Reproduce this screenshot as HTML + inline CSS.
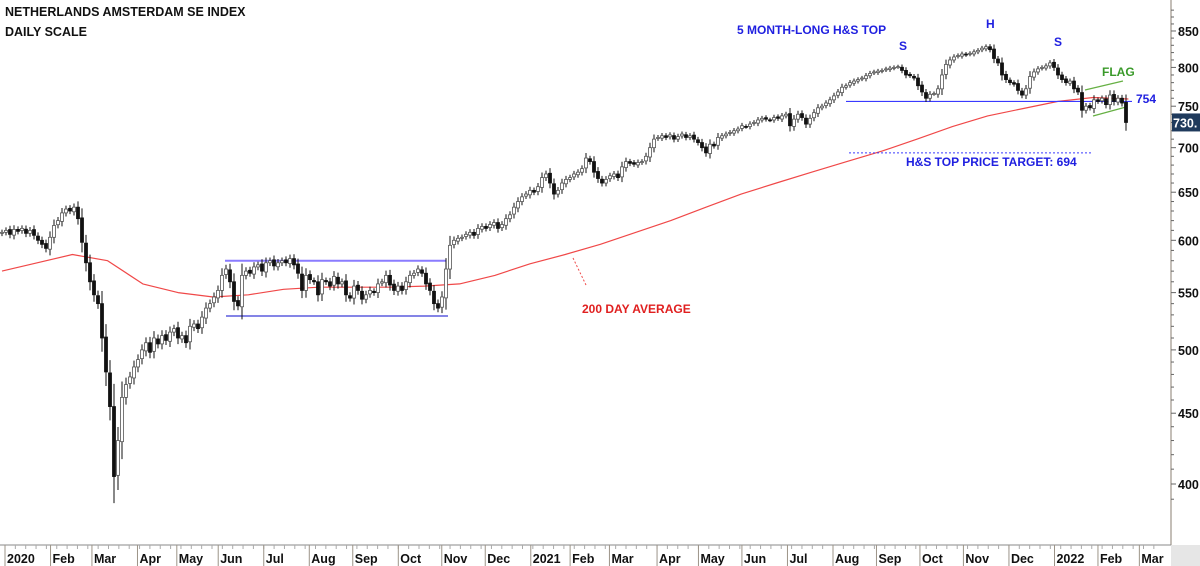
<!DOCTYPE html>
<html><head><meta charset="utf-8"><style>
html,body{margin:0;padding:0;background:#fff;}
svg{display:block;font-family:"Liberation Sans",sans-serif;}
</style></head><body>
<svg id="chart" width="1200" height="566" viewBox="0 0 1200 566">
<rect x="1171" y="545" width="29" height="21" fill="#e6e6e6"/>
<g id="ma"></g>
<g id="ann"></g>
<g id="candles"></g>
<g id="axes"></g>
<text x="5" y="16" font-size="12.5" font-weight="bold" fill="#111">NETHERLANDS AMSTERDAM SE INDEX</text>
<text x="5" y="36" font-size="12.5" font-weight="bold" fill="#111">DAILY SCALE</text>
</svg>
<script>
const closes=[608,610,606,611,609,612,607,610,605,600,
596,592,603,615,620,628,632,630,634,622,
598,578,560,548,540,510,482,455,405,430,
462,472,478,486,492,500,506,498,510,505,
512,508,515,518,510,512,506,520,522,518,
528,536,540,546,552,566,572,560,542,538,
566,570,568,574,576,570,578,580,575,578,
580,578,582,576,568,552,566,562,560,548,
562,560,556,565,558,560,548,545,556,552,
544,548,552,550,558,560,566,557,552,556,
552,560,566,568,572,568,558,552,540,536,
546,572,595,600,602,603,606,608,605,612,
614,612,616,618,612,616,622,626,634,640,
645,648,652,650,656,666,670,660,648,652,
660,664,666,670,672,676,688,684,672,665,
660,664,668,670,666,678,684,682,681,683,
684,690,700,710,712,714,712,715,710,713,
716,712,714,710,706,700,694,704,702,712,
714,716,718,720,722,726,725,728,730,733,
735,734,733,736,735,738,740,726,734,740,
736,728,735,742,748,750,754,758,763,768,
774,776,780,782,784,786,789,792,794,795,
796,798,799,800,801,796,790,789,786,776,
768,760,765,766,772,790,804,810,814,816,
818,817,819,821,823,826,828,824,812,806,
790,784,780,778,770,764,772,788,794,798,
800,802,806,800,790,784,780,782,772,768,
745,750,748,758,756,760,752,764,756,760,
754,730];
const ma200=[570,578,586,580,558,550,546,548,553,555,555,555,556,558,566,577,586,596,608,620,634,648,660,672,684,696,710,725,738,747,756,761,759];
const monthLabels=["2020","Feb","Mar","Apr","May","Jun","Jul","Aug","Sep","Oct","Nov","Dec","2021","Feb","Mar","Apr","May","Jun","Jul","Aug","Sep","Oct","Nov","Dec","2022","Feb","Mar"];
const monthDays=[0,22,42,64,83,103,125,147,168,190,211,232,254,273,292,315,335,356,378,400,421,442,463,485,507,528,548];
const yTicks=[400,450,500,550,600,650,700,750,800,850];
const lastPrice=[730];

const NS="http://www.w3.org/2000/svg";
const X0=5,DX=2.07;
function xDay(d){return X0+d*DX;}
function candleDay(i){return (4*i-3)/DX;}
function yP(v){return 484-601*Math.log(v/400);}
function mk(tag,attrs,parent){const e=document.createElementNS(NS,tag);for(const k in attrs)e.setAttribute(k,attrs[k]);parent.appendChild(e);return e;}

const cg=document.getElementById('candles');
closes.forEach((c,i)=>{
  const o=i===0?c-1:closes[i-1]+(i%3-1)*0.8;
  const x=xDay(candleDay(i))-1.5;
  const hi=Math.max(o,c)+Math.abs(c-o)*0.3+2.5,lo=Math.min(o,c)-Math.abs(c-o)*0.3-2.5;
  const up=c>=o;
  const g=mk('g',{},cg);
  
  
  mk('line',{x1:x+1.5,x2:x+1.5,y1:yP(hi),y2:yP(lo),stroke:'#111','stroke-width':1},g);
  const yt=yP(Math.max(o,c)),yb=yP(Math.min(o,c));
  mk('rect',{x:x,y:yt,width:3,height:Math.max(1,yb-yt),fill:up?'#fff':'#111',stroke:up?'#555':'#111','stroke-width':0.8},g);
});

const mg=document.getElementById('ma');
let pts=ma200.map((v,i)=>xDay(candleDay(i*8.8)).toFixed(1)+','+yP(v).toFixed(1)).join(' ');
const pl=mk('polyline',{points:pts,fill:'none',stroke:'#f04848','stroke-width':1.2,'stroke-linejoin':'round'},mg);



const an=document.getElementById('ann');
function ln(x1,y1,x2,y2,col,w,dash,name){const e=mk('line',{x1,y1,x2,y2,stroke:col,'stroke-width':w},an);if(dash)e.setAttribute('stroke-dasharray',dash);return e;}
function tx(x,y,s,col,name,size){const e=mk('text',{x,y,fill:col,'font-size':size||12,'font-weight':'bold'},an);e.textContent=s;return e;}
ln(225,yP(580),446,yP(580),'#8a7cff',2,null,'range-top-line');
ln(226,yP(529),448,yP(529),'#3a3ad8',1.2,null,'range-bottom-line');
ln(846,yP(756),1132,yP(756),'#3a3aff',1.2,null,'neckline');
ln(849,yP(694),1093,yP(694),'#3a3aff',1,'2,2','target-line');
ln(1085,90,1123,81,'#66b044',1.2,null,'flag-upper');
ln(1093,116,1126,107,'#66b044',1.2,null,'flag-lower');
ln(573,258,586,285,'#f04848',1,'2,2','ma-pointer');
tx(737,34,'5 MONTH-LONG H&S TOP','#2020e0','hs-title');
tx(899,50,'S','#2020e0','left-shoulder-label');
tx(986,28,'H','#2020e0','head-label');
tx(1054,46,'S','#2020e0','right-shoulder-label');
tx(1102,76,'FLAG','#3a9a2a','flag-label');
tx(1136,103,'754','#2020e0','neckline-value');
tx(906,166,'H&S TOP PRICE TARGET: 694','#2020e0','target-label');
tx(582,313,'200 DAY AVERAGE','#e02020','ma-label');

const ax=document.getElementById('axes');
function axl(a,name){const e=mk('line',a,ax);}
axl({x1:1171,y1:0,x2:1171,y2:545,stroke:'#9c9488','stroke-width':1.2},'y-axis-line');
axl({x1:0,y1:545,x2:1171,y2:545,stroke:'#888','stroke-width':1},'x-axis-line');
for(let v=390;v<=880;v+=10){const y=yP(v);if(y<0||y>545)continue;axl({x1:1171,y1:y,x2:v%50===0?1176:1174,y2:y,stroke:'#666','stroke-width':1},'y-tick');}
yTicks.forEach(v=>{const t=mk('text',{x:1178,y:yP(v)+5,'font-size':12.5,'font-weight':'bold',fill:'#111'},ax);t.textContent=v;

});
for(let d=5;d<560;d+=5){const x=xDay(d);if(x>1170)break;axl({x1:x,y1:545,x2:x,y2:549,stroke:'#aaa','stroke-width':1},'x-minor-tick');}
monthDays.forEach((d,i)=>{const x=xDay(d);axl({x1:x,y1:545,x2:x,y2:566,stroke:'#9c9488','stroke-width':1},'month-separator');
const t=mk('text',{x:x+2,y:563,'font-size':12.5,'font-weight':'bold',fill:'#111'},ax);t.textContent=monthLabels[i];

});
const ly=yP(lastPrice[0]);
const b=mk('rect',{x:1172,y:ly-9,width:28,height:18,fill:'#1f3a5c'},ax);


const bt=mk('text',{x:1173,y:ly+5,'font-size':12.5,'font-weight':'bold',fill:'#fff'},ax);bt.textContent=lastPrice[0]+'.';


</script>
</body></html>
